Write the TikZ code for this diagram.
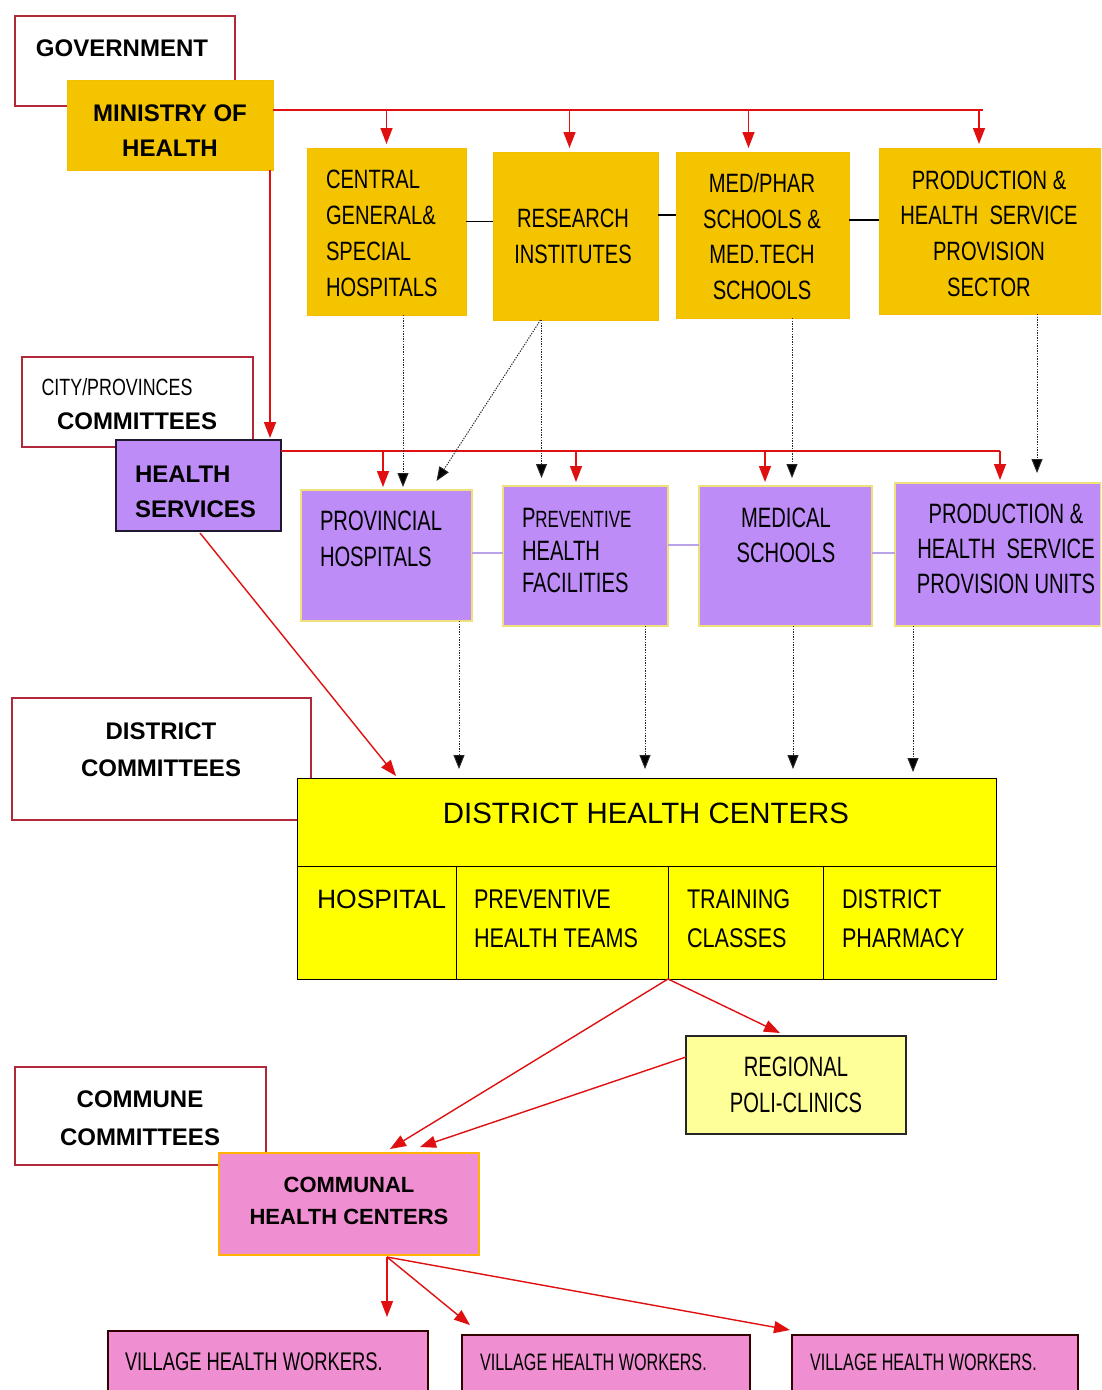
\documentclass[tikz,border=0pt]{standalone}
\usepackage{fontspec}
\setmainfont{Liberation Sans}
\newfontfamily\narA[FakeStretch=0.8]{Liberation Sans}
\newfontfamily\narB[FakeStretch=0.76]{Liberation Sans}
\newfontfamily\narC[FakeStretch=0.72]{Liberation Sans}
\newfontfamily\narD[FakeStretch=0.68]{Liberation Sans}
\usetikzlibrary{arrows.meta,calc}
\newcommand\fsz[2]{\fontsize{#1}{#2}\selectfont}

\definecolor{gold}{HTML}{F4C400}
\definecolor{lav}{HTML}{BD8CF7}
\definecolor{lavline}{HTML}{B9A2E6}
\definecolor{dhcyellow}{HTML}{FFFF00}
\definecolor{paleyellow}{HTML}{FFFF99}
\definecolor{pinkbox}{HTML}{EF8ED0}
\definecolor{linkred}{HTML}{E01010}
\definecolor{cmtred}{HTML}{B0283A}
\definecolor{paleedge}{HTML}{EFE07A}
\definecolor{inkdark}{HTML}{1E1830}

\tikzset{
  box/.style n args={2}{draw, minimum width=#1, minimum height=#2, inner sep=0pt, outer sep=0pt},
  cmtbox/.style={draw=cmtred, line width=1.2pt, fill=white},
  goldbox/.style={fill=gold, draw=gold!90!orange, line width=0.8pt},
  lavbox/.style={fill=lav, draw=paleedge, line width=1.2pt},
  hsbox/.style={fill=lav, draw=inkdark, line width=1.2pt},
  dhcbox/.style={fill=dhcyellow, draw=black, line width=1pt},
  regbox/.style={fill=paleyellow, draw=black!85, line width=1.3pt},
  commbox/.style={fill=pinkbox, draw=orange!60!yellow, line width=1.2pt},
  villbox/.style={fill=pinkbox, draw=black!80!red, line width=1.2pt},
  txt/.style={inner sep=0pt, outer sep=0pt, text=black},
  redline/.style={draw=linkred, line width=1.4pt},
  redarrow/.style={draw=linkred, line width=1.4pt, -{Triangle[width=12pt,length=16pt,fill=linkred]}},
  dotarrow/.style={draw=black!85, line width=1pt, dash pattern=on 1.3pt off 1.3pt, -{Triangle[width=11pt,length=14pt,fill=black]}},
  joinline/.style={draw=black, line width=1.3pt},
  lavjoin/.style={draw=lavline, line width=1.2pt},
}

\begin{document}
\begin{tikzpicture}[x=1pt,y=-1pt]
\useasboundingbox (0,0) rectangle (1101,1390);
\fill[white] (0,0) rectangle (1101,1390);
\clip (0,0) rectangle (1101,1390);

% ---------- committee frames (behind the coloured boxes) ----------
\node[box={220pt}{90pt}, cmtbox] (gov) at (125,61) {};
\node[box={231pt}{90pt}, cmtbox] (city) at (137.5,402) {};
\node[box={299pt}{122pt}, cmtbox] (distc) at (161.5,759) {};
\node[box={251pt}{98pt}, cmtbox] (commune) at (140.5,1116) {};

\node[txt, font=\bfseries\fsz{24}{35}] (gov-t) at (122,48) {GOVERNMENT};
\node[txt, font=\narB\fsz{23.5}{30}] (city-t1) at (117,387) {CITY/PROVINCES};
\node[txt, font=\bfseries\fsz{24}{35}] (city-t2) at (137,421) {COMMITTEES};
\node[txt, font=\bfseries\fsz{24}{37}, align=center] (distc-t) at (161,749.5) {DISTRICT\\COMMITTEES};
\node[txt, font=\bfseries\fsz{24}{38}, align=center] (commune-t) at (140,1118) {COMMUNE\\COMMITTEES};

% ---------- ministry level ----------
\node[box={206pt}{90pt}, goldbox] (moh) at (170,125) {};
\node[txt, font=\bfseries\fsz{24}{35}, align=center] (moh-t) at (170,130.5) {MINISTRY OF\\HEALTH};

\node[box={159pt}{167pt}, goldbox] (central) at (386.5,231.5) {};
\node[box={165pt}{168pt}, goldbox] (research) at (575.5,236) {};
\node[box={173pt}{166pt}, goldbox] (medphar) at (762.5,235) {};
\node[box={222pt}{166pt}, goldbox] (prodsec) at (990,231) {};

\node[txt, font=\narB\fsz{26.5}{36}, align=left, anchor=west] (central-t) at (326,233.5) {CENTRAL\\GENERAL\&\\SPECIAL\\HOSPITALS};
\node[txt, font=\narB\fsz{26.5}{36}, align=center] (research-t) at (573,236) {RESEARCH\\INSTITUTES};
\node[txt, font=\narB\fsz{26.5}{35.7}, align=center] (medphar-t) at (762,236.5) {MED/PHAR\\SCHOOLS \&\\MED.TECH\\SCHOOLS};
\node[txt, font=\narB\fsz{26.5}{35.7}, align=center] (prodsec-t) at (989,233.5) {PRODUCTION \&\\HEALTH\ \ SERVICE\\PROVISION\\SECTOR};

% ---------- province level ----------
\node[box={165pt}{91pt}, hsbox] (hs) at (198.5,485.5) {};
\node[txt, font=\bfseries\fsz{24}{35}, align=left, anchor=west] (hs-t) at (135,491.5) {HEALTH\\SERVICES};

\node[box={171pt}{131pt}, lavbox] (prov) at (386.5,555.5) {};
\node[box={165pt}{140pt}, lavbox] (prev) at (585.5,556) {};
\node[box={173pt}{140pt}, lavbox] (meds) at (785.5,556) {};
\node[box={206pt}{143pt}, lavbox] (produnits) at (998,554.5) {};

\node[txt, font=\narC\fsz{28}{36}, align=left, anchor=west] (prov-t) at (320,539) {PROVINCIAL\\HOSPITALS};
\node[txt, font=\narC\fsz{28}{32.5}, align=left, anchor=west] (prev-t) at (522,550.5) {{\fsz{28}{32.5}P}{\fsz{23.5}{32.5}REVENTIVE}\\HEALTH\\FACILITIES};
\node[txt, font=\narC\fsz{28}{35}, align=center] (meds-t) at (786,535.5) {MEDICAL\\SCHOOLS};
\node[txt, font=\narC\fsz{28}{35}, align=center] (produnits-t) at (1006,549) {PRODUCTION \&\\HEALTH\ \ SERVICE\\PROVISION UNITS};

% ---------- district level ----------
\node[box={699pt}{88pt}, dhcbox] (dhchead) at (646.5,822) {};
\node[box={159pt}{113pt}, dhcbox] (hosp) at (376.5,922.5) {};
\node[box={212pt}{113pt}, dhcbox] (pteams) at (562,922.5) {};
\node[box={155pt}{113pt}, dhcbox] (training) at (745.5,922.5) {};
\node[box={173pt}{113pt}, dhcbox] (pharm) at (909.5,922.5) {};

\node[txt, font=\fsz{29.4}{35}] (dhchead-t) at (646,813) {DISTRICT HEALTH CENTERS};
\node[txt, font=\fsz{26.5}{39}, anchor=west] (hosp-t) at (317,899) {HOSPITAL};
\node[txt, font=\narA\fsz{27}{39}, align=left, anchor=west] (pteams-t) at (474,918.5) {PREVENTIVE\\HEALTH TEAMS};
\node[txt, font=\narA\fsz{27}{39}, align=left, anchor=west] (training-t) at (687,918.5) {TRAINING\\CLASSES};
\node[txt, font=\narA\fsz{27}{39}, align=left, anchor=west] (pharm-t) at (842,918.5) {DISTRICT\\PHARMACY};

\node[box={220pt}{98pt}, regbox] (regional) at (796,1085) {};
\node[txt, font=\narC\fsz{28}{36}, align=center] (regional-t) at (796,1085) {REGIONAL\\POLI-CLINICS};

% ---------- commune and village level ----------
\node[box={260pt}{102pt}, commbox] (communal) at (349,1204) {};
\node[txt, font=\bfseries\fsz{22}{32}, align=center] (communal-t) at (349,1201) {COMMUNAL\\HEALTH CENTERS};

\node[box={320pt}{70pt}, villbox] (v1) at (268,1366) {};
\node[box={288pt}{66pt}, villbox] (v2) at (606,1368) {};
\node[box={286pt}{66pt}, villbox] (v3) at (935,1368) {};
\node[txt, font=\narC\fsz{25.5}{30}, anchor=west] (v1-t) at (125,1362) {VILLAGE HEALTH WORKERS.};
\node[txt, font=\narD\fsz{23.75}{30}, anchor=west] (v2-t) at (480,1362) {VILLAGE HEALTH WORKERS.};
\node[txt, font=\narD\fsz{23.75}{30}, anchor=west] (v3-t) at (810,1362) {VILLAGE HEALTH WORKERS.};

% ---------- ministry distribution line ----------
\coordinate (mbus) at ($(moh.east)+(0,-15)$);
\draw[redline] (mbus) -- ($(mbus -| prodsec.north)+(-7,0)$);
\draw[redarrow, shorten >=4pt] (mbus -| central.north) -- (central.north);
\coordinate (mb2) at ($(research.north)+(-6,0)$);
\draw[redarrow, shorten >=4pt] (mbus -| mb2) -- (mb2);
\coordinate (mb3) at ($(medphar.north)+(-14,0)$);
\draw[redarrow, shorten >=4pt] (mbus -| mb3) -- (mb3);
\coordinate (mb4) at ($(prodsec.north)+(-11,0)$);
\draw[redarrow, shorten >=4pt] (mbus -| mb4) -- (mb4);

\coordinate (mdrop) at ($(moh.south east)+(-3,0)$);
\draw[redarrow, shorten >=2pt] (mdrop) -- (mdrop |- hs.north);

% ---------- links between sibling boxes ----------
\coordinate (j1) at ($(central.east)+(0,-10)$);
\draw[joinline] (j1) -- (j1 -| research.west);
\coordinate (j2) at ($(research.east)+(0,-21)$);
\draw[joinline] (j2) -- (j2 -| medphar.west);
\coordinate (j3) at ($(medphar.east)+(0,-15)$);
\draw[joinline] (j3) -- (j3 -| prodsec.west);

\coordinate (k1) at ($(prov.east)+(0,-2.5)$);
\draw[lavjoin] (k1) -- (k1 -| prev.west);
\coordinate (k2) at ($(prev.east)+(0,-11)$);
\draw[lavjoin] (k2) -- (k2 -| meds.west);
\coordinate (k3) at ($(meds.east)+(0,-3)$);
\draw[lavjoin] (k3) -- (k3 -| produnits.west);

% ---------- province distribution line ----------
\coordinate (hbus) at ($(hs.east)+(0,-34.5)$);
\draw[redline] (hbus) -- ($(hbus -| produnits.north)+(2,0)$);
\coordinate (hb1) at ($(prov.north)+(-3.5,0)$);
\draw[redarrow, shorten >=3pt] (hbus -| hb1) -- (hb1);
\coordinate (hb2) at ($(prev.north)+(-9.5,0)$);
\draw[redarrow, shorten >=4pt] (hbus -| hb2) -- (hb2);
\coordinate (hb3) at ($(meds.north)+(-20.5,0)$);
\draw[redarrow, shorten >=4pt] (hbus -| hb3) -- (hb3);
\coordinate (hb4) at ($(produnits.north)+(2,0)$);
\draw[redarrow, shorten >=3pt] (hbus -| hb4) -- (hb4);

% ---------- technical guidance (dotted) ----------
\coordinate (d1) at ($(central.south)+(16.5,0)$);
\draw[dotarrow, shorten >=3pt] (d1) -- (d1 |- prov.north);
\coordinate (d2) at ($(research.south)+(-35,0)$);
\draw[dotarrow] (d2) -- ($(prov.north)+(50,-9)$);
\coordinate (d3) at ($(research.south)+(-34,0)$);
\draw[dotarrow, shorten >=8pt] (d3) -- (d3 |- prev.north);
\coordinate (d4) at ($(medphar.south)+(29.5,0)$);
\draw[dotarrow, shorten >=8pt] (d4) -- (d4 |- meds.north);
\coordinate (d5) at ($(prodsec.south)+(47,0)$);
\draw[dotarrow, shorten >=10pt] (d5) -- (d5 |- produnits.north);

\coordinate (e1) at ($(prov.south)+(72.5,0)$);
\draw[dotarrow, shorten >=9pt] (e1) -- (e1 |- dhchead.north);
\coordinate (e2) at ($(prev.south)+(59.5,0)$);
\draw[dotarrow, shorten >=9pt] (e2) -- (e2 |- dhchead.north);
\coordinate (e3) at ($(meds.south)+(7.5,0)$);
\draw[dotarrow, shorten >=9pt] (e3) -- (e3 |- dhchead.north);
\coordinate (e4) at ($(produnits.south)+(-85,0)$);
\draw[dotarrow, shorten >=6pt] (e4) -- (e4 |- dhchead.north);

% ---------- district and commune links ----------
\draw[redarrow] ($(hs.south)+(1.5,2)$) -- ($(dhchead.north west)+(99,-2)$);
\draw[redarrow] (training.south west) -- ($(regional.north)+(-16,-3)$);
\draw[redarrow] (training.south west) -- ($(communal.north)+(41,-4)$);
\draw[redarrow] ($(regional.west)+(0,-28)$) -- ($(communal.north)+(71,-6)$);

\coordinate (cs) at ($(communal.south)+(38,2)$);
\draw[redarrow, shorten >=14pt] (cs) -- (cs |- v1.north);
\draw[redarrow] (cs) -- ($(v2.north west)+(8,-10)$);
\draw[redarrow] (cs) -- ($(v3.north west)+(-2,-5)$);
\end{tikzpicture}
\end{document}
